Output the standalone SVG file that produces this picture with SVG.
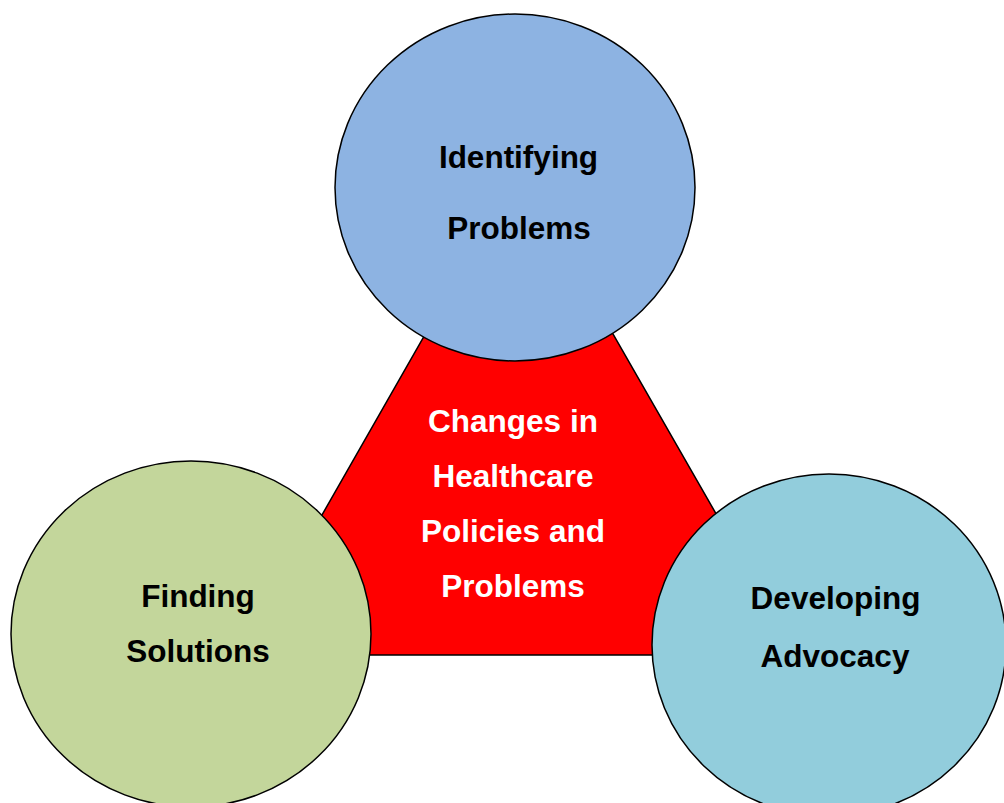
<svg xmlns="http://www.w3.org/2000/svg" width="1004" height="803" viewBox="0 0 1004 803">
  <style>
    .shape { stroke: #000; stroke-width: 1.5; }
    .label { font-family: "Liberation Sans", Arial, sans-serif; font-weight: bold; font-size: 31.5px; text-anchor: middle; }
    .dark { fill: #000; }
    .light { fill: #fff; }
  </style>
  <rect width="1004" height="803" fill="#fff"/>

  <!-- central triangle -->
  <g id="node-center">
    <polygon class="shape" fill="#ff0000" points="519,170 242,655 797,655"/>
    <text class="label light" x="513" y="432">Changes in</text>
    <text class="label light" x="513" y="487">Healthcare</text>
    <text class="label light" x="513" y="542">Policies and</text>
    <text class="label light" x="513" y="597">Problems</text>
  </g>

  <!-- no explicit connectors: the circles overlap the triangle corners -->
  <g id="connectors"></g>

  <g id="node-identifying">
    <ellipse class="shape" fill="#8db3e2" cx="515" cy="187.5" rx="180" ry="173.5"/>
    <text class="label dark" x="518.5" y="168">Identifying</text>
    <text class="label dark" x="519" y="239">Problems</text>
  </g>

  <g id="node-finding">
    <ellipse class="shape" fill="#c3d69b" cx="191" cy="634" rx="180" ry="173"/>
    <text class="label dark" x="198" y="607">Finding</text>
    <text class="label dark" x="198" y="662">Solutions</text>
  </g>

  <g id="node-advocacy">
    <ellipse class="shape" fill="#92cddc" cx="829" cy="645" rx="177" ry="171"/>
    <text class="label dark" x="835.5" y="609">Developing</text>
    <text class="label dark" x="835" y="666.5">Advocacy</text>
  </g>
</svg>
